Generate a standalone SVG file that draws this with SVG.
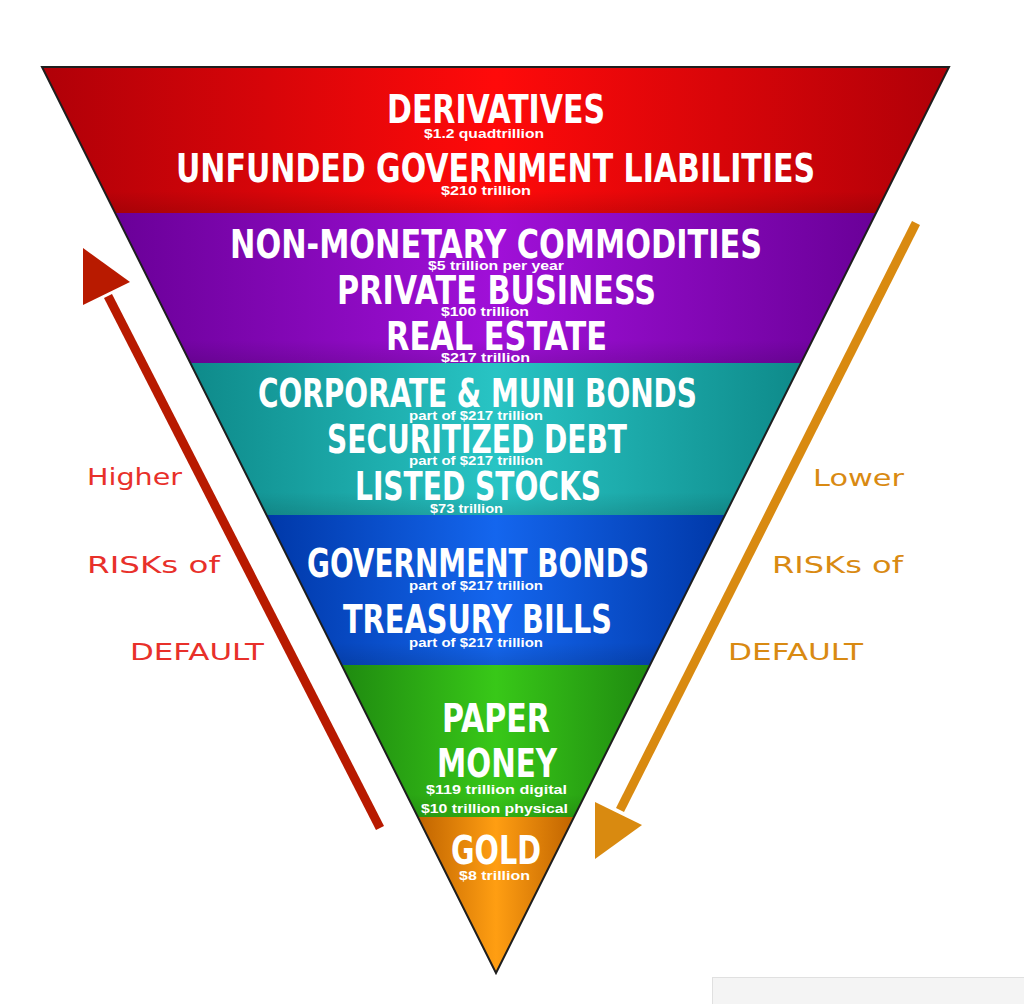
<svg xmlns="http://www.w3.org/2000/svg" width="1024" height="1004" viewBox="0 0 1024 1004">
<defs>
<linearGradient id="gRed" x1="0" y1="0" x2="1" y2="0"><stop offset="0" stop-color="#b00008"/><stop offset="0.5" stop-color="#ff0a0a"/><stop offset="1" stop-color="#b00008"/></linearGradient>
<linearGradient id="gPur" x1="0" y1="0" x2="1" y2="0"><stop offset="0" stop-color="#6a0098"/><stop offset="0.5" stop-color="#a010d8"/><stop offset="1" stop-color="#6a0098"/></linearGradient>
<linearGradient id="gTeal" x1="0" y1="0" x2="1" y2="0"><stop offset="0" stop-color="#0e8a8a"/><stop offset="0.5" stop-color="#28c4c4"/><stop offset="1" stop-color="#0e8a8a"/></linearGradient>
<linearGradient id="gBlue" x1="0" y1="0" x2="1" y2="0"><stop offset="0" stop-color="#0038a8"/><stop offset="0.5" stop-color="#1466ee"/><stop offset="1" stop-color="#0038a8"/></linearGradient>
<linearGradient id="gGreen" x1="0" y1="0" x2="1" y2="0"><stop offset="0" stop-color="#1f8a10"/><stop offset="0.5" stop-color="#38c818"/><stop offset="1" stop-color="#1f8a10"/></linearGradient>
<linearGradient id="gGold" x1="0" y1="0" x2="1" y2="0"><stop offset="0" stop-color="#c06400"/><stop offset="0.5" stop-color="#ff9e12"/><stop offset="1" stop-color="#c06400"/></linearGradient>
<linearGradient id="gShade" x1="0" y1="0" x2="0" y2="1"><stop offset="0" stop-color="#000" stop-opacity="0"/><stop offset="0.85" stop-color="#000" stop-opacity="0"/><stop offset="1" stop-color="#000" stop-opacity="0.12"/></linearGradient>
</defs>
<style>
.big{font-family:"Liberation Sans Narrow","DejaVu Sans Condensed","Liberation Sans",sans-serif;font-weight:bold;fill:#ffffff;font-size:39px}
.sm{font-family:"Liberation Sans","DejaVu Sans",sans-serif;font-weight:bold;fill:#ffffff;font-size:12px}
.hand{font-family:"DejaVu Sans","Liberation Sans",sans-serif;font-size:23px}
.red{fill:#e8302a}
.org{fill:#d98a12}
</style>
<rect x="0" y="0" width="1024" height="1004" fill="#ffffff"/>
<rect x="712.5" y="977.5" width="320" height="40" fill="#f4f4f4" stroke="#e0e0e0" stroke-width="1"/>

<g id="band-red">
<polygon points="42,67 949,67 876,213 115.2,213" fill="url(#gRed)"/>
<polygon points="42,67 949,67 876,213 115.2,213" fill="url(#gShade)"/>
<text class="big" x="387" y="123" textLength="218" lengthAdjust="spacingAndGlyphs" font-size="37">DERIVATIVES</text>
<text class="sm" x="424" y="138" textLength="120" lengthAdjust="spacingAndGlyphs">$1.2 quadtrillion</text>
<text class="big" x="176" y="182" textLength="639" lengthAdjust="spacingAndGlyphs">UNFUNDED GOVERNMENT LIABILITIES</text>
<text class="sm" x="441" y="195" textLength="90" lengthAdjust="spacingAndGlyphs">$210 trillion</text>
</g>

<g id="band-purple">
<polygon points="115.2,213 876,213 801,363 190.3,363" fill="url(#gPur)"/>
<polygon points="115.2,213 876,213 801,363 190.3,363" fill="url(#gShade)"/>
<text class="big" x="230" y="258" textLength="532" lengthAdjust="spacingAndGlyphs">NON-MONETARY COMMODITIES</text>
<text class="sm" x="428" y="270" textLength="136" lengthAdjust="spacingAndGlyphs">$5 trillion per year</text>
<text class="big" x="337" y="304" textLength="319" lengthAdjust="spacingAndGlyphs">PRIVATE BUSINESS</text>
<text class="sm" x="441" y="316" textLength="88" lengthAdjust="spacingAndGlyphs">$100 trillion</text>
<text class="big" x="386" y="350" textLength="221" lengthAdjust="spacingAndGlyphs">REAL ESTATE</text>
<text class="sm" x="441" y="362" textLength="89" lengthAdjust="spacingAndGlyphs">$217 trillion</text>
</g>

<g id="band-teal">
<polygon points="190.3,363 801,363 725,515 266.5,515" fill="url(#gTeal)"/>
<polygon points="190.3,363 801,363 725,515 266.5,515" fill="url(#gShade)"/>
<text class="big" x="258" y="407" textLength="439" lengthAdjust="spacingAndGlyphs">CORPORATE &amp; MUNI BONDS</text>
<text class="sm" x="409" y="420" textLength="134" lengthAdjust="spacingAndGlyphs">part of $217 trillion</text>
<text class="big" x="327" y="453" textLength="300" lengthAdjust="spacingAndGlyphs">SECURITIZED DEBT</text>
<text class="sm" x="409" y="465" textLength="134" lengthAdjust="spacingAndGlyphs">part of $217 trillion</text>
<text class="big" x="355" y="500" textLength="246" lengthAdjust="spacingAndGlyphs">LISTED STOCKS</text>
<text class="sm" x="430" y="513" textLength="73" lengthAdjust="spacingAndGlyphs">$73 trillion</text>
</g>

<g id="band-blue">
<polygon points="266.5,515 725,515 650,665 341.7,665" fill="url(#gBlue)"/>
<polygon points="266.5,515 725,515 650,665 341.7,665" fill="url(#gShade)"/>
<text class="big" x="307" y="577" textLength="342" lengthAdjust="spacingAndGlyphs">GOVERNMENT BONDS</text>
<text class="sm" x="409" y="590" textLength="134" lengthAdjust="spacingAndGlyphs">part of $217 trillion</text>
<text class="big" x="343" y="633" textLength="269" lengthAdjust="spacingAndGlyphs">TREASURY BILLS</text>
<text class="sm" x="409" y="647" textLength="134" lengthAdjust="spacingAndGlyphs">part of $217 trillion</text>
</g>

<g id="band-green">
<polygon points="341.7,665 650,665 574,817 417.8,817" fill="url(#gGreen)"/>
<polygon points="341.7,665 650,665 574,817 417.8,817" fill="url(#gShade)"/>
<text class="big" x="442" y="732" textLength="108" lengthAdjust="spacingAndGlyphs">PAPER</text>
<text class="big" x="437" y="777" textLength="120" lengthAdjust="spacingAndGlyphs">MONEY</text>
<text class="sm" x="426" y="794" textLength="141" lengthAdjust="spacingAndGlyphs">$119 trillion digital</text>
<text class="sm" x="421" y="813" textLength="147" lengthAdjust="spacingAndGlyphs">$10 trillion physical</text>
</g>

<g id="band-gold">
<polygon points="417.8,817 574,817 496,973" fill="url(#gGold)"/>
<text class="big" x="451" y="864" textLength="90" lengthAdjust="spacingAndGlyphs" font-size="36">GOLD</text>
<text class="sm" x="459" y="880" textLength="71" lengthAdjust="spacingAndGlyphs">$8 trillion</text>
</g>

<g id="outline">
<polygon points="42,67 949,67 496,973" fill="none" stroke="#1e1e1e" stroke-width="2" stroke-linejoin="miter"/>
</g>

<g id="connectors">
<g id="arrow-higher">
<line x1="380" y1="828" x2="108" y2="296" stroke="#b81a00" stroke-width="9"/>
<polygon points="83,248 83,305 130,282" fill="#b81a00"/>
</g>
<g id="arrow-lower">
<line x1="916" y1="223" x2="620" y2="810" stroke="#d98a10" stroke-width="9"/>
<polygon points="595,859 595,802 642,825" fill="#d98a10"/>
</g>
</g>

<g id="label-higher">
<text class="hand red" x="87" y="485" textLength="95" lengthAdjust="spacingAndGlyphs">Higher</text>
<text class="hand red" x="87" y="573" textLength="133" lengthAdjust="spacingAndGlyphs">RISKs of</text>
<text class="hand red" x="130" y="660" textLength="134" lengthAdjust="spacingAndGlyphs">DEFAULT</text>
</g>
<g id="label-lower">
<text class="hand org" x="813" y="486" textLength="91" lengthAdjust="spacingAndGlyphs">Lower</text>
<text class="hand org" x="772" y="573" textLength="131" lengthAdjust="spacingAndGlyphs">RISKs of</text>
<text class="hand org" x="728" y="660" textLength="135" lengthAdjust="spacingAndGlyphs">DEFAULT</text>
</g>
</svg>
